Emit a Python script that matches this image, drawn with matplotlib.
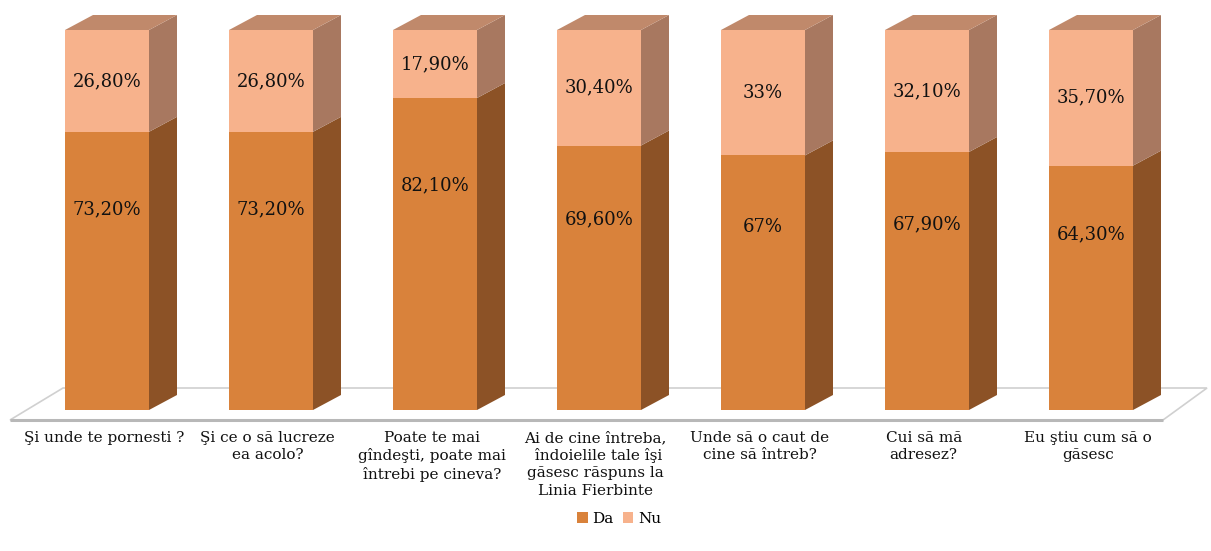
import matplotlib
matplotlib.use("Agg")
import matplotlib.pyplot as plt
from matplotlib.patches import Polygon, Patch

categories = [
    "Şi unde te pornesti ?",
    "Şi ce o să lucreze\nea acolo?",
    "Poate te mai\ngîndeşti, poate mai\nîntrebi pe cineva?",
    "Ai de cine întreba,\n îndoielile tale îşi\ngăsesc răspuns la\nLinia Fierbinte",
    "Unde să o caut de\ncine să întreb?",
    "Cui să mă\nadresez?",
    "Eu ştiu cum să o\ngăsesc",
]
da = [73.2, 73.2, 82.1, 69.6, 67.0, 67.9, 64.3]
nu = [26.8, 26.8, 17.9, 30.4, 33.0, 32.1, 35.7]
da_labels = ["73,20%", "73,20%", "82,10%", "69,60%", "67%", "67,90%", "64,30%"]
nu_labels = ["26,80%", "26,80%", "17,90%", "30,40%", "33%", "32,10%", "35,70%"]
series_names = ["Da", "Nu"]

# colours: front, side, top
da_front, da_side = "#D9823B", "#8C5226"
nu_front, nu_side = "#F7B28C", "#A87860"
top_col = "#C0896B"

W, H, DPI = 1211, 551, 100
fig = plt.figure(figsize=(W / DPI, H / DPI), dpi=DPI)
ax = fig.add_axes([0, 0, 1, 1])

# one category step = 164 px, 100 % = 380 px
px_x, px_y = 164.0, 3.8
x0_px, y0_px = 107.0, 410.0
ax.set_xlim(-x0_px / px_x, (W - x0_px) / px_x)
ax.set_ylim(-(H - y0_px) / px_y, y0_px / px_y)
ax.axis("off")

bw = 84 / px_x          # front face width
ddx = 28 / px_x         # depth offset (x)
ddy = 15 / px_y         # depth offset (y)

# floor of the 3-D plot area
fl_front = -10 / px_y
fl_back = 22 / px_y
floor = Polygon([(-97 / px_x, fl_front), (1056 / px_x, fl_front),
                 (1100 / px_x, fl_back), (-44 / px_x, fl_back)],
                closed=True, facecolor="white", edgecolor="#D0D0D0", lw=1.2, zorder=1)
ax.add_patch(floor)
ax.plot([-97 / px_x, 1056 / px_x], [fl_front, fl_front], color="#B8B8B8", lw=2.2,
        solid_capstyle="butt", zorder=1.5)


def box(xc, y0, y1, front, side, top=None):
    xl, xr = xc - bw / 2, xc + bw / 2
    ax.add_patch(Polygon([(xr, y0), (xr + ddx, y0 + ddy), (xr + ddx, y1 + ddy), (xr, y1)],
                         closed=True, facecolor=side, edgecolor="none", zorder=3))
    ax.add_patch(Polygon([(xl, y0), (xr, y0), (xr, y1), (xl, y1)],
                         closed=True, facecolor=front, edgecolor="none", zorder=4))
    if top is not None:
        ax.add_patch(Polygon([(xl, y1), (xl + ddx, y1 + ddy), (xr + ddx, y1 + ddy), (xr, y1)],
                             closed=True, facecolor=top, edgecolor="none", zorder=4))


lab_font = dict(family="DejaVu Serif", fontsize=13, color="#111111", zorder=6)
for i in range(len(categories)):
    box(i, 0, da[i], da_front, da_side)
    box(i, da[i], da[i] + nu[i], nu_front, nu_side, top_col)
    ax.text(i, da[i] * 0.72, da_labels[i], ha="center", va="center", **lab_font)
    ax.text(i, da[i] + nu[i] / 2, nu_labels[i], ha="center", va="center", **lab_font)
    ax.text(i - 0.02, -21 / px_y, categories[i], ha="center", va="top",
            family="DejaVu Serif", fontsize=11, color="#111111", linespacing=1.28)

handles = [Patch(facecolor=da_front, edgecolor="none"), Patch(facecolor=nu_front, edgecolor="none")]
fig.legend(handles, series_names, loc="center", bbox_to_anchor=(619 / W, 1 - 519 / H),
           ncol=2, frameon=False, handlelength=0.7, handleheight=0.7,
           handletextpad=0.3, columnspacing=0.6, prop=dict(family="DejaVu Serif", size=11))

fig.savefig("out.png", dpi=DPI, facecolor="white")
